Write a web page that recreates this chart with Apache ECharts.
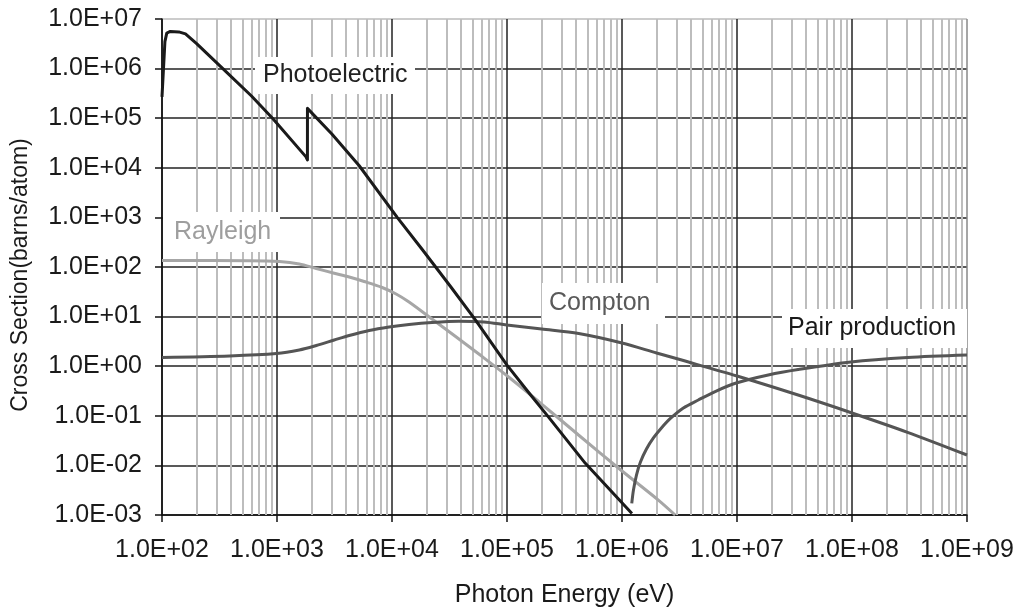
<!DOCTYPE html>
<html>
<head>
<meta charset="utf-8">
<script src="https://cdn.jsdelivr.net/npm/echarts@6/dist/echarts.min.js"></script>
<style>
html,body{margin:0;padding:0;background:#fff;}
#chart{width:1021px;height:613px;}
</style>
</head>
<body>
<div id="chart"></div>
<script>
// ---- data (photon energy in eV, cross section in barns/atom) ----
const photoE = [100, 106, 110, 118, 140, 160, 200, 338, 600, 918, 1787, 1839, 1840, 3000, 5190, 11100, 18400, 32400, 53300, 100000, 150000, 229000, 480000, 1220000];
const photoV = [2.7e5, 3.5e6, 5.2e6, 5.6e6, 5.5e6, 5.0e6, 3.2e6, 1.0e6, 2.8e5, 9.9e4, 1.66e4, 1.44e4, 1.58e5, 4.8e4, 1.1e4, 1.0e3, 223, 40, 8.5, 1.05, 0.32, 0.095, 0.011, 1.07e-3];

const rayE = [100, 576, 1049, 1563, 2197, 3148, 4246, 5726, 8204, 10860, 14060, 22280, 35240, 56890, 99500, 188400, 418800, 988600, 2070000, 2900000];
const rayV = [135, 134, 129, 115, 93, 75, 62.8, 51, 38.6, 28.6, 19.7, 8.95, 4.06, 1.76, 0.65, 0.194, 0.041, 7.9e-3, 2.0e-3, 1.0e-3];

const compE = [100, 387, 988, 1563, 2197, 3148, 4246, 6327, 9433, 14060, 22280, 38200, 62900, 99500, 200000, 420000, 1000000, 2000000, 3300000, 10000000, 34000000, 100000000, 300000000, 1000000000];
const compV = [1.5, 1.61, 1.80, 2.12, 2.61, 3.37, 4.16, 5.25, 6.17, 6.93, 7.6, 8.04, 7.78, 6.8, 5.62, 4.56, 2.94, 1.85, 1.33, 0.634, 0.262, 0.114, 0.047, 0.0162];

const pairE = [1216000, 1258000, 1336000, 1447000, 1632000, 1876000, 2201000, 2635000, 3416000, 4608000, 6600000, 9840000, 18700000, 34000000, 97800000, 305000000, 1000000000];
const pairV = [1.72e-3, 3.19e-3, 6.4e-3, 0.0117, 0.0214, 0.0357, 0.0567, 0.0883, 0.1437, 0.2084, 0.316, 0.458, 0.665, 0.857, 1.22, 1.50, 1.68];

const labels = ['Photoelectric', 'Rayleigh', 'Compton', 'Pair production'];
const xDecades = [1e2, 1e3, 1e4, 1e5, 1e6, 1e7, 1e8];
const minorFactors = [2, 3, 4, 5, 6, 7, 8, 9];

function zip(a, b) { return a.map((v, i) => [v, b[i]]); }
function sci(v) {
  const e = Math.round(Math.log10(v));
  return '1.0E' + (e < 0 ? '-' : '+') + String(Math.abs(e)).padStart(2, '0');
}
const minorLines = [];
xDecades.forEach(d => minorFactors.forEach(f => minorLines.push({ xAxis: d * f })));

const FONT = 'Liberation Sans, Arial, sans-serif';
const chart = echarts.init(document.getElementById('chart'), null, { renderer: 'canvas' });

function box(x, y, w, h, text, color, tx) {
  return {
    type: 'group', z: 10,
    children: [
      { type: 'rect', shape: { x: x, y: y, width: w, height: h }, style: { fill: '#fff' }, z: 10 },
      { type: 'text', x: tx, y: y + h / 2, z: 11,
        style: { text: text, fill: color, font: '25px ' + FONT, textVerticalAlign: 'middle', textAlign: 'left' } }
    ]
  };
}

const option = {
  animation: false,
  backgroundColor: '#fff',
  grid: { left: 162, right: 54, top: 19, bottom: 98, containLabel: false },
  xAxis: {
    type: 'log', logBase: 10, min: 1e2, max: 1e9, interval: 1,
    name: 'Photon Energy (eV)', nameLocation: 'middle', nameGap: 68,
    nameTextStyle: { fontFamily: FONT, fontSize: 25, color: '#1a1a1a' },
    axisLine: { show: true, lineStyle: { color: '#111', width: 1.5 } },
    axisTick: { show: true, length: 7, lineStyle: { color: '#111', width: 1.5 } },
    axisLabel: { formatter: sci, fontFamily: FONT, fontSize: 25, color: '#1a1a1a', margin: 23 },
    splitLine: { show: true, lineStyle: { color: ['#222', '#222', '#222', '#222', '#222', '#222', '#222', '#888'], width: 1.5 } },
    minorTick: { show: false }, minorSplitLine: { show: false }
  },
  yAxis: {
    type: 'log', logBase: 10, min: 1e-3, max: 1e7, interval: 1,
    name: 'Cross Section(barns/atom)', nameLocation: 'middle', nameGap: 130,
    nameTextStyle: { fontFamily: FONT, fontSize: 23, color: '#1a1a1a', padding: [0, 16, 0, 0] },
    axisLine: { show: true, lineStyle: { color: '#111', width: 1.5 } },
    axisTick: { show: true, length: 7, lineStyle: { color: '#111', width: 1.5 } },
    axisLabel: { formatter: sci, fontFamily: FONT, fontSize: 25, color: '#1a1a1a', margin: 20 },
    splitLine: { show: true, lineStyle: { color: ['#222', '#222', '#222', '#222', '#222', '#222', '#222', '#222', '#222', '#222', '#bbb'], width: 1.5 } }
  },
  series: [
    {
      type: 'line', name: 'minor', data: [], z: 1, silent: true,
      markLine: { silent: true, z: 1, symbol: ['none', 'none'], label: { show: false }, animation: false,
        lineStyle: { color: '#bdbdbd', type: 'solid', width: 2 }, emphasis: { disabled: true }, data: minorLines }
    },
    { type: 'line', name: labels[1], data: zip(rayE, rayV), showSymbol: false, smooth: 0.3, z: 3,
      lineStyle: { color: '#a6a6a6', width: 3 } },
    { type: 'line', name: labels[2], data: zip(compE, compV), showSymbol: false, smooth: 0.3, z: 3,
      lineStyle: { color: '#555', width: 3 } },
    { type: 'line', name: labels[3], data: zip(pairE, pairV), showSymbol: false, smooth: 0.3, z: 3,
      lineStyle: { color: '#555', width: 3 } },
    { type: 'line', name: labels[0], data: zip(photoE, photoV), showSymbol: false, smooth: false, z: 4,
      lineStyle: { color: '#1a1a1a', width: 3, join: 'round' } }
  ],
  graphic: [
    box(255, 57, 160, 37, labels[0], '#222', 263),
    box(163, 212, 117, 40, labels[1], '#9e9e9e', 174),
    box(542, 283, 123, 41, labels[2], '#5a5a5a', 549),
    box(782, 309, 185, 39, labels[3], '#1a1a1a', 788)
  ]
};
chart.setOption(option);
</script>
</body>
</html>
